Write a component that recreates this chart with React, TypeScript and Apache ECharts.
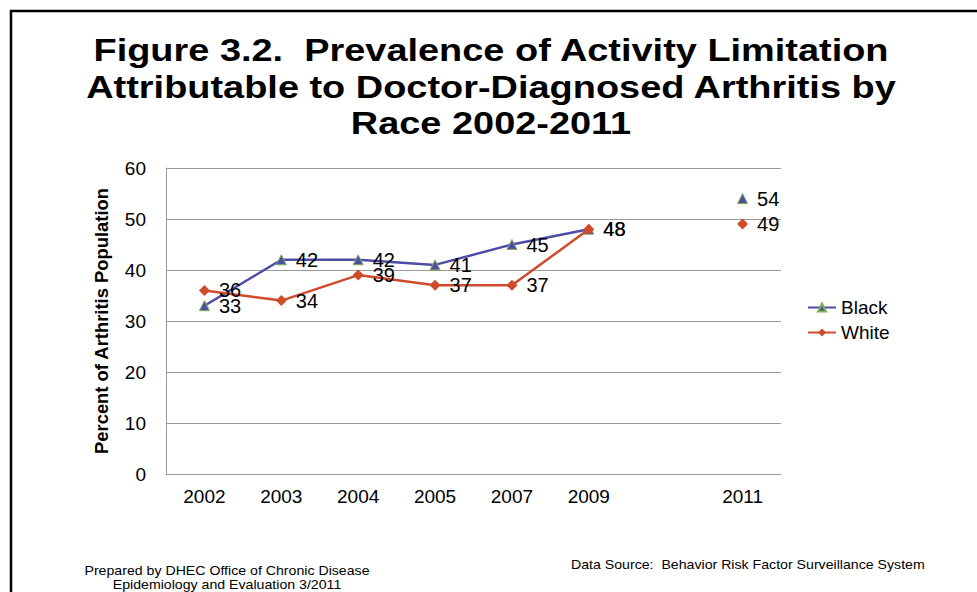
import React, { useEffect, useRef } from "react";
import * as echarts from "echarts";

const categories = ["2002", "2003", "2004", "2005", "2007", "2009", "", "2011"];
const blackValues = [33, 42, 42, 41, 45, 48, null, 54];
const whiteValues = [36, 34, 39, 37, 37, 48, null, 49];
const yTicks = { min: 0, max: 60, interval: 10 };
const titleLines = [
  "Figure 3.2.  Prevalence of Activity Limitation",
  "Attributable to Doctor-Diagnosed Arthritis by",
  "Race 2002-2011",
];

const FONT = "'Liberation Sans', Arial, sans-serif";

export default function App() {
  const ref = useRef<HTMLDivElement>(null);
  useEffect(() => {
    if (!ref.current) return;
    const chart = echarts.init(ref.current, null, { renderer: "svg" });
    const labelCfg = {
      show: true,
      position: "right",
      distance: 9,
      fontSize: 20,
      color: "#000",
      fontFamily: FONT,
    };
    const footer = (text: string, x: number, y: number, align: string) => ({
      type: "text",
      x,
      y,
      scaleX: 1.18,
      style: {
        text,
        fontSize: 12,
        fontFamily: FONT,
        fill: "#000",
        align,
        verticalAlign: "middle",
      },
    });
    chart.setOption({
      animation: false,
      backgroundColor: "#fff",
      textStyle: { fontFamily: FONT },
      legend: {
        orient: "vertical",
        left: 802,
        top: 293,
        itemWidth: 28,
        itemHeight: 10,
        itemGap: 6,
        textStyle: { fontSize: 19, color: "#000", fontFamily: FONT },
        data: ["Black", "White"],
      },
      grid: { left: 166, right: 196, top: 168, bottom: 118 },
      xAxis: {
        type: "category",
        data: categories,
        boundaryGap: true,
        axisLine: { show: true, lineStyle: { color: "#999" } },
        axisTick: { show: false },
        axisLabel: { fontSize: 19, color: "#000", margin: 13, fontFamily: FONT, interval: 0 },
      },
      yAxis: {
        type: "value",
        min: yTicks.min,
        max: yTicks.max,
        interval: yTicks.interval,
        name: "Percent of Arthritis Population",
        nameLocation: "middle",
        nameGap: 56,
        nameTextStyle: { fontSize: 18.4, fontWeight: "bold", color: "#000", fontFamily: FONT },
        axisLine: { show: true, lineStyle: { color: "#999" } },
        axisTick: { show: false },
        splitLine: { lineStyle: { color: "#999" } },
        axisLabel: { fontSize: 19, color: "#000", margin: 20, fontFamily: FONT },
      },
      series: [
        {
          name: "Black",
          type: "line",
          data: blackValues,
          connectNulls: false,
          symbol: "triangle",
          symbolSize: 10,
          lineStyle: { color: "#4d4da6", width: 2.5 },
          itemStyle: { color: "#4d4da6", borderColor: "#7fb04f", borderWidth: 1 },
          label: labelCfg,
          z: 2,
        },
        {
          name: "White",
          type: "line",
          data: whiteValues,
          connectNulls: false,
          symbol: "diamond",
          symbolSize: 11,
          lineStyle: { color: "#d04a2c", width: 2.5 },
          itemStyle: { color: "#d04a2c" },
          label: labelCfg,
          z: 3,
        },
      ],
      graphic: [
        {
          type: "rect",
          shape: { x: 11, y: 11, width: 1200, height: 800 },
          style: { fill: "none", stroke: "#000", lineWidth: 2.5 },
          silent: true,
        },
        ...titleLines.map((t, i) => ({
          type: "text",
          x: 491,
          y: 50 + i * 36.5,
          scaleX: 1.185,
          style: {
            text: t,
            fontSize: 32,
            fontWeight: "bold",
            fontFamily: FONT,
            fill: "#000",
            align: "center",
            verticalAlign: "middle",
          },
        })),
        footer("Prepared by DHEC Office of Chronic Disease", 227, 571, "center"),
        footer("Epidemiology and Evaluation 3/2011", 227, 585, "center"),
        footer("Data Source:  Behavior Risk Factor Surveillance System", 571, 565, "left"),
      ],
    });
    return () => chart.dispose();
  }, []);
  return (
    <div
      ref={ref}
      style={{ position: "fixed", left: 0, top: 0, width: 977, height: 592, background: "#fff" }}
    />
  );
}
